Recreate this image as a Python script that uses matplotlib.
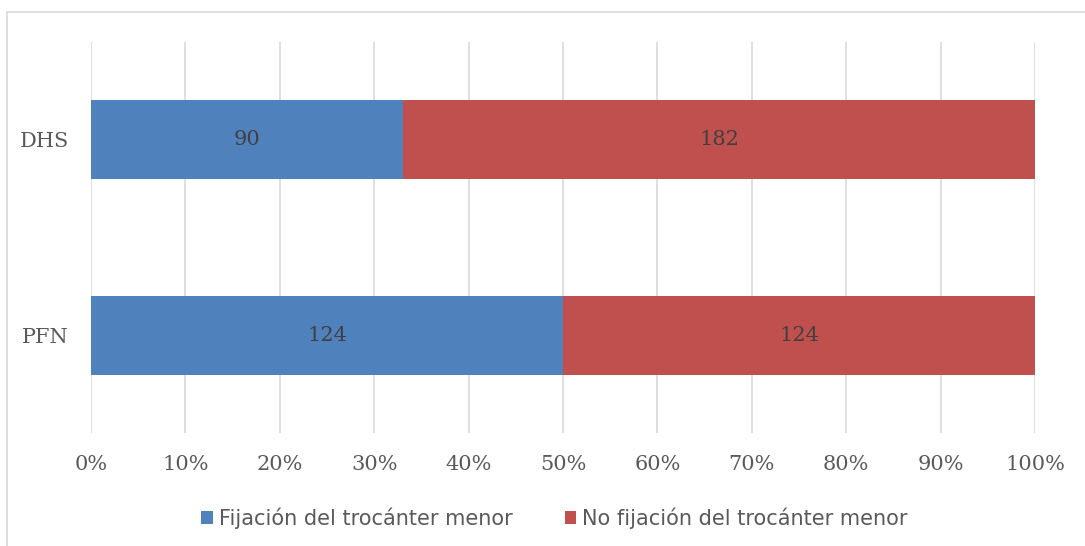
import numpy as np
import matplotlib.pyplot as plt
from matplotlib.patches import Rectangle

# data
categories = ['PFN', 'DHS']
fijacion = [124, 90]
no_fijacion = [124, 182]
series_names = ['Fijación del trocánter menor', 'No fijación del trocánter menor']
colors = ['#4F81BD', '#C0504D']
tick_labels = ['0%', '10%', '20%', '30%', '40%', '50%', '60%', '70%', '80%', '90%', '100%']

text_col = '#595959'
serif = ['DejaVu Serif']

fig = plt.figure(figsize=(10.85, 5.46), dpi=100, facecolor='white')
ax = fig.add_axes([91/1085, 1 - 433/546, (1035 - 91)/1085, (433 - 42)/546])

# outer chart border
fig.patches.append(Rectangle((7/1085, -0.05), 1.2, 1 - 12/546 + 0.05,
                             transform=fig.transFigure, fill=False,
                             edgecolor='#D9D9D9', linewidth=1.2, zorder=0))

f = np.array(fijacion, dtype=float)
n = np.array(no_fijacion, dtype=float)
tot = f + n
y = np.arange(len(categories))
h = 0.405

b1 = ax.barh(y, f / tot, height=h, color=colors[0], label=series_names[0], zorder=2)
b2 = ax.barh(y, n / tot, left=f / tot, height=h, color=colors[1], label=series_names[1], zorder=2)

for bars, vals in ((b1, fijacion), (b2, no_fijacion)):
  for bar, v in zip(bars, vals):
    cx = bar.get_x() + bar.get_width() / 2
    cy = bar.get_y() + bar.get_height() / 2
    ax.text(cx, cy, str(v), ha='center', va='center', fontsize=15,
            family=serif, color='#404040', zorder=3)

ax.set_xlim(0, 1)
ax.set_ylim(-0.5, 1.5)
ax.set_xticks(np.linspace(0, 1, 11))
ax.set_xticklabels(tick_labels, family=serif, fontsize=15, color=text_col)
ax.set_yticks(y)
ax.set_yticklabels(categories, family=serif, fontsize=15, color=text_col)
ax.tick_params(axis='both', length=0)
ax.tick_params(axis='x', pad=16)
ax.tick_params(axis='y', pad=16)
ax.grid(axis='x', color='#D9D9D9', linewidth=1.2, zorder=0)
ax.set_axisbelow(True)
for s in ax.spines.values():
  s.set_visible(False)

leg = fig.legend(loc='center', bbox_to_anchor=(0.511, 1 - 518/546), ncol=2,
                 frameon=False, handlelength=0.55, handleheight=0.55,
                 handletextpad=0.3, columnspacing=2.5,
                 prop={'family': ['DejaVu Sans'], 'size': 15})
for t in leg.get_texts():
  t.set_color(text_col)

fig.savefig('out.png', dpi=100, facecolor='white')
